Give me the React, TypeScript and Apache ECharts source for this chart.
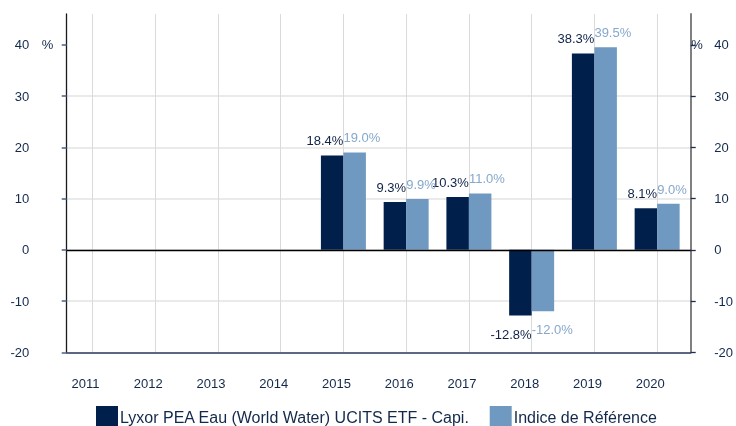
import React, { useEffect, useRef } from 'react';
import * as echarts from 'echarts';

const years = ['2011', '2012', '2013', '2014', '2015', '2016', '2017', '2018', '2019', '2020'];
const fundName = 'Lyxor PEA Eau (World Water) UCITS ETF - Capi.';
const indexName = 'Indice de Référence';
const fundValues: (number | null)[] = [null, null, null, null, 18.4, 9.3, 10.3, -12.8, 38.3, 8.1];
const indexValues: (number | null)[] = [null, null, null, null, 19.0, 9.9, 11.0, -12.0, 39.5, 9.0];
const yTicks = [-20, -10, 0, 10, 20, 30, 40];
const yMin = -20;
const yMax = 46;
const xMin = -0.41;
const xMax = 9.535;

const DARK = '#001f4b';
const LIGHT = '#7099c1';
const TEXT = '#13294b';
const FONT = '"Liberation Sans", Arial, sans-serif';

function buildData(values: (number | null)[], negDistance: number) {
  const out: any[] = [];
  values.forEach((v, i) => {
    if (v === null) return;
    out.push({
      value: [i, v],
      label: v < 0 ? { position: 'bottom', distance: negDistance } : { position: 'top', distance: 8 },
    });
  });
  return out;
}

export default function App() {
  const ref = useRef<HTMLDivElement>(null);
  useEffect(() => {
    if (!ref.current) return;
    const chart = echarts.init(ref.current, undefined, { renderer: 'svg' });
    const xIdx = years.map((_, i) => i);
    const fmt = (p: any) => `${Number(p.value[1]).toFixed(1)}%`;
    chart.setOption({
      animation: false,
      textStyle: { fontFamily: FONT },
      grid: { left: 66.7, right: 43.3, top: 14, bottom: 73.7, containLabel: false },
      legend: {
        data: [fundName, indexName],
        left: 96,
        top: 406,
        padding: 0,
        itemWidth: 22,
        itemHeight: 23,
        itemGap: 20,
        icon: 'rect',
        textStyle: { fontSize: 16, color: TEXT, fontFamily: FONT, padding: [0, 0, 0, -3] },
      },
      xAxis: {
        type: 'value',
        min: xMin,
        max: xMax,
        axisLine: { show: true, onZero: false, lineStyle: { color: '#2c3e5c', width: 1.5 } },
        axisTick: { show: false, customValues: xIdx },
        axisLabel: {
          customValues: xIdx,
          formatter: (v: number) => years[Math.round(v)] ?? '',
          margin: 25,
          padding: [0, 14, 0, 0],
          color: TEXT,
          fontSize: 13,
          fontFamily: FONT,
        },
        splitLine: { show: true, lineStyle: { color: '#dadada', width: 1 } },
      },
      yAxis: [
        {
          type: 'value',
          position: 'left',
          min: yMin,
          max: yMax,
          axisLine: { show: true, onZero: false, lineStyle: { color: '#1a1a1a', width: 1.3 } },
          axisTick: { show: true, length: 5, customValues: yTicks, lineStyle: { color: '#4a6088', width: 1.5 } },
          axisLabel: {
            customValues: yTicks,
            margin: 13.4,
            formatter: (v: number) => `{v|${v}}{p|${v === 40 ? '%' : '\u00a0'}}`,
            rich: {
              v: { fontSize: 13, color: TEXT, fontFamily: FONT },
              p: { fontSize: 13, color: TEXT, fontFamily: FONT, width: 24, align: 'right' },
            },
          },
          splitLine: { show: true, showMaxLine: false, lineStyle: { color: '#e3e3e3', width: 1.5 } },
        },
        {
          type: 'value',
          position: 'right',
          min: yMin,
          max: yMax,
          axisLine: { show: true, onZero: false, lineStyle: { color: '#808080', width: 2 } },
          axisTick: { show: true, length: 5, customValues: yTicks, lineStyle: { color: '#1b2d53', width: 1.3 } },
          axisLabel: {
            customValues: yTicks,
            margin: 0.5,
            formatter: (v: number) => `{p|${v === 40 ? '%' : '\u00a0'}}{v|${v}}`,
            rich: {
              v: { fontSize: 13, color: TEXT, fontFamily: FONT },
              p: { fontSize: 13, color: TEXT, fontFamily: FONT, width: 23, align: 'left' },
            },
          },
          splitLine: { show: false },
        },
      ],
      series: [
        {
          name: fundName,
          type: 'bar',
          yAxisIndex: 0,
          barWidth: 22.5,
          barGap: '0%',
          itemStyle: { color: DARK },
          label: {
            show: true,
            align: 'right',
            offset: [11.25, 0],
            color: '#0f2347',
            fontSize: 13,
            fontFamily: FONT,
            formatter: fmt,
          },
          data: buildData(fundValues, 13),
          markLine: {
            silent: true,
            symbol: ['none', 'none'],
            label: { show: false },
            lineStyle: { color: '#000000', width: 1.3, type: 'solid' },
            data: [{ yAxis: 0 }],
          },
        },
        {
          name: indexName,
          type: 'bar',
          yAxisIndex: 0,
          barWidth: 22.5,
          barGap: '0%',
          itemStyle: { color: LIGHT },
          label: {
            show: true,
            align: 'left',
            offset: [-11.25, 0],
            color: '#86a8cc',
            fontSize: 13,
            fontFamily: FONT,
            formatter: fmt,
          },
          data: buildData(indexValues, 12),
        },
      ],
    });
    return () => chart.dispose();
  }, []);
  return <div ref={ref} style={{ position: 'fixed', left: 0, top: 0, width: 736, height: 426 }} />;
}
